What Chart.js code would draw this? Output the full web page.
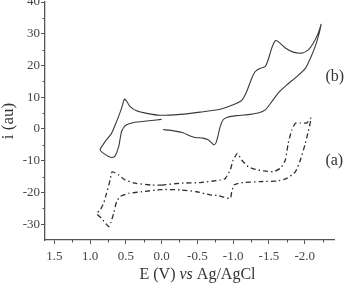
<!DOCTYPE html>
<html>
<head>
<meta charset="utf-8">
<script src="https://cdn.jsdelivr.net/npm/chart.js@4/dist/chart.umd.min.js"></script>
<style>
  html, body { margin: 0; padding: 0; background: #fff; }
  #wrap { width: 344px; height: 283px; position: relative; }
</style>
</head>
<body>
<div id="wrap"><canvas id="cv" width="344" height="283"></canvas></div>
<script>
// curve (b), solid: potential (V) and current (au), in scan order
const bPotential = [-0.02, -0.17, -0.30, -0.40, -0.47, -0.58, -0.65, -0.70, -0.73, -0.76, -0.79, -0.82, -0.86, -0.92, -1.05, -1.24, -1.35, -1.45, -1.54, -1.63, -1.75, -1.89, -2.01, -2.10, -2.17, -2.23,
  -2.19, -2.12, -2.05, -1.96, -1.84, -1.73, -1.63, -1.59, -1.54, -1.49, -1.45, -1.38, -1.31, -1.26, -1.19, -1.12, -1.00, -0.82, -0.54, -0.26, 0.02, 0.21, 0.35, 0.44, 0.49, 0.52,
  0.56, 0.63, 0.70, 0.79, 0.86, 0.81, 0.74, 0.69, 0.65, 0.60, 0.56, 0.51, 0.39, 0.21, 0.00];
const bCurrent = [-0.2, -0.6, -1.2, -2.2, -2.7, -2.9, -3.4, -4.4, -5.0, -4.4, -2.0, 0.8, 2.9, 3.7, 4.2, 4.6, 5.0, 6.0, 8.6, 11.3, 13.9, 16.5, 19.1, 23.3, 27.5, 33.0,
  30.2, 27.0, 24.9, 23.9, 24.2, 25.5, 27.5, 27.8, 25.5, 21.8, 19.7, 19.1, 18.1, 16.0, 11.8, 9.0, 7.6, 6.2, 5.3, 4.6, 4.3, 4.9, 5.7, 7.0, 8.8, 9.4,
  6.5, 2.3, -1.4, -4.0, -6.6, -7.7, -8.7, -9.0, -8.5, -5.6, -0.8, 1.0, 2.0, 2.5, 3.0];

// curve (a), dash-dot
const aPotential = [0.00, -0.26, -0.54, -0.82, -0.89, -0.96, -1.00, -1.06, -1.12, -1.21, -1.32, -1.42, -1.56, -1.66, -1.73, -1.77, -1.82, -1.87, -1.94, -2.03, -2.09,
  -2.05, -2.01, -1.94, -1.87, -1.75, -1.61, -1.38, -1.14, -1.06, -1.01, -0.98, -0.96, -0.79, -0.68, -0.49, -0.26, 0.00, 0.28, 0.46, 0.58, 0.63, 0.67, 0.71, 0.74,
  0.84, 0.91, 0.86, 0.81, 0.77, 0.72, 0.69, 0.60, 0.51, 0.37, 0.14, 0.00];
const aCurrent = [-17.7, -17.1, -16.9, -16.1, -15.6, -12.9, -9.8, -7.7, -9.8, -11.9, -12.8, -13.2, -13.5, -12.4, -9.8, -4.5, -0.3, 1.8, 1.9, 1.9, 3.4,
  -0.8, -4.5, -9.8, -13.5, -15.6, -16.4, -16.6, -16.9, -17.2, -17.7, -19.8, -21.9, -21.0, -20.8, -19.8, -19.2, -19.1, -19.8, -20.3, -21.3, -22.9, -26.6, -29.5, -30.8,
  -28.2, -26.6, -25.6, -23.4, -20.3, -16.1, -13.5, -14.5, -16.1, -17.1, -17.7, -17.7];

const xTicks = [1.5, 1.0, 0.5, 0.0, -0.5, -1.0, -1.5, -2.0];
const xMinor = [1.25, 0.75, 0.25, -0.25, -0.75, -1.25, -1.75, -2.25];
const yTicks = [-30, -20, -10, 0, 10, 20, 30, 40];
const yMinor = [-25, -15, -5, 5, 15, 25, 35];

const curveNames = ["(b)", "(a)"];

const SERIF = "'Liberation Serif', 'DejaVu Serif', serif";
const AXIS = "#555";
const INK = "#333";

const toPoints = (xs, ys) => xs.map((v, i) => ({ x: v, y: ys[i] }));

// minor tick marks, drawn via the scales
const minorTicks = {
  id: "minorTicks",
  afterDraw(chart) {
    const { ctx, scales: { x, y } } = chart;
    ctx.save();
    ctx.strokeStyle = AXIS;
    ctx.lineWidth = 1;
    ctx.beginPath();
    xMinor.forEach((v) => {
      const px = Math.round(x.getPixelForValue(v)) + 0.5;
      ctx.moveTo(px, x.top);
      ctx.lineTo(px, x.top + 2.5);
    });
    yMinor.forEach((v) => {
      const py = Math.round(y.getPixelForValue(v)) + 0.5;
      ctx.moveTo(y.right, py);
      ctx.lineTo(y.right - 2.5, py);
    });
    ctx.stroke();
    ctx.restore();
  },
};

// x axis title with italic "vs", plus the (a)/(b) curve labels
const texts = {
  id: "texts",
  afterDraw(chart) {
    const { ctx, chartArea, scales: { x, y } } = chart;
    ctx.save();
    ctx.fillStyle = INK;
    ctx.textBaseline = "alphabetic";
    const parts = [["E (V) ", "16px " + SERIF], ["vs", "italic 16px " + SERIF], [" Ag/AgCl", "16px " + SERIF]];
    let total = 0;
    parts.forEach(([t, f]) => { ctx.font = f; total += ctx.measureText(t).width; });
    let cx = (chartArea.left + chartArea.right) / 2 + 8 - total / 2;
    parts.forEach(([t, f]) => {
      ctx.font = f;
      ctx.textAlign = "left";
      ctx.fillText(t, cx, 279);
      cx += ctx.measureText(t).width;
    });

    ctx.font = "16px " + SERIF;
    ctx.textBaseline = "middle";
    const lx = x.getPixelForValue(-2.29);
    ctx.fillText(curveNames[0], lx, y.getPixelForValue(16.4));
    ctx.fillText(curveNames[1], lx, y.getPixelForValue(-10.1));
    ctx.restore();
  },
};

new Chart(document.getElementById("cv"), {
  type: "scatter",
  data: {
    datasets: [
      {
        label: "(b)",
        data: toPoints(bPotential, bCurrent),
        showLine: true,
        borderColor: "#3a3a3a",
        borderWidth: 1.1,
        pointRadius: 0,
        tension: 0.2,
      },
      {
        label: "(a)",
        data: toPoints(aPotential, aCurrent),
        showLine: true,
        borderColor: "#2e2e2e",
        borderWidth: 1.3,
        borderDash: [5, 3, 1.5, 3],
        pointRadius: 0,
        tension: 0.15,
      },
    ],
  },
  options: {
    responsive: false,
    maintainAspectRatio: false,
    devicePixelRatio: 1,
    animation: false,
    layout: { padding: { top: 2, right: 10, bottom: 0, left: 0 } },
    plugins: { legend: { display: false }, tooltip: { enabled: false } },
    scales: {
      x: {
        type: "linear",
        reverse: true,
        min: -2.41,
        max: 1.63,
        afterBuildTicks: (axis) => { axis.ticks = xTicks.map((v) => ({ value: v })); },
        afterFit: (axis) => { axis.height = 43; axis.paddingLeft = 0; axis.paddingRight = 0; },
        ticks: {
          callback: (v) => Number(v).toFixed(1),
          font: { family: SERIF, size: 13 },
          color: "#444",
          padding: 5,
          maxRotation: 0,
        },
        grid: { drawOnChartArea: false, drawTicks: true, tickLength: 4, color: AXIS },
        border: { display: true, color: AXIS, width: 1.3 },
      },
      y: {
        type: "linear",
        min: -35,
        max: 40,
        afterBuildTicks: (axis) => { axis.ticks = yTicks.map((v) => ({ value: v })); },
        afterFit: (axis) => { axis.width = 45; axis.paddingTop = 0; axis.paddingBottom = 0; },
        ticks: {
          font: { family: SERIF, size: 13 },
          color: "#444",
          padding: 1,
        },
        grid: { drawOnChartArea: false, drawTicks: true, tickLength: 4, color: AXIS },
        border: { display: true, color: AXIS, width: 1.3 },
        title: {
          display: true,
          text: "i (au)",
          font: { family: SERIF, size: 17, lineHeight: 1 },
          color: INK,
          padding: 0,
        },
      },
    },
  },
  plugins: [minorTicks, texts],
});
</script>
</body>
</html>
